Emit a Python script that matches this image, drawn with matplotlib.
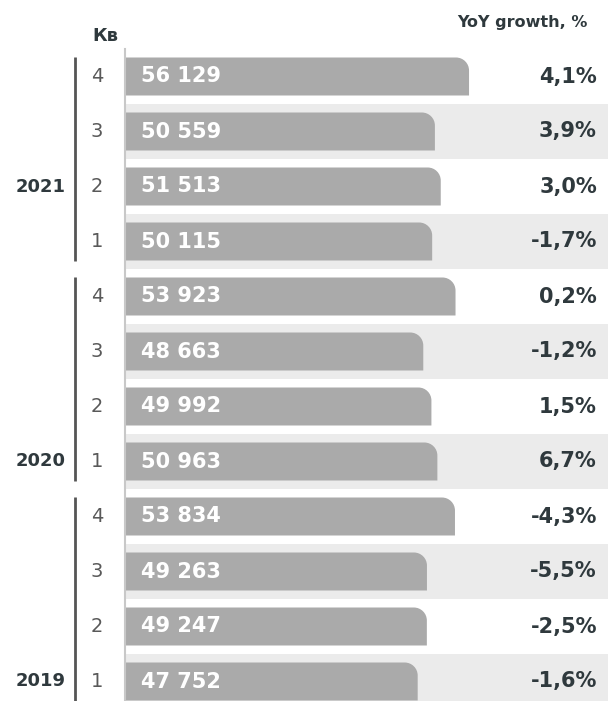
import matplotlib.pyplot as plt
from matplotlib.path import Path
from matplotlib.patches import PathPatch

plt.rcParams['font.family'] = 'DejaVu Sans'

# quarterly values, newest first
years = ['2021', '2020', '2019']
quarters = [4, 3, 2, 1, 4, 3, 2, 1, 4, 3, 2, 1]
values = [56129, 50559, 51513, 50115, 53923, 48663, 49992, 50963,
          53834, 49263, 49247, 47752]
growth = [4.1, 3.9, 3.0, -1.7, 0.2, -1.2, 1.5, 6.7, -4.3, -5.5, -2.5, -1.6]

bar_col = '#aaaaaa'
stripe_col = '#ebebeb'
dark = '#2f393d'

fig = plt.figure(figsize=(6.08, 7.01), dpi=100)
ax = fig.add_axes([125/608, 0, 483/608, 652/701])
xmax = 78800
ax.set_xlim(0, xmax)
ax.set_ylim(-0.5 + 652/55, -0.5)

n = len(values)
bh = 38/55
# corner radius ~13px, in data units
rx = 13 * xmax / 483
ry = 13 / 55
k = 0.5523

for i in range(n):
    if i % 2 == 1:
        ax.axhspan(i - 0.5, i + 0.5, color=stripe_col, lw=0, zorder=0)

def rounded_bar(y, w):
    top = y - bh/2
    bot = y + bh/2
    verts = [(0, bot), (w, bot), (w, top + ry),
             (w, top + ry*(1-k)), (w - rx*(1-k), top), (w - rx, top),
             (0, top), (0, bot)]
    codes = [Path.MOVETO, Path.LINETO, Path.LINETO,
             Path.CURVE4, Path.CURVE4, Path.CURVE4,
             Path.LINETO, Path.CLOSEPOLY]
    return PathPatch(Path(verts, codes), facecolor=bar_col, edgecolor='none', zorder=2)

trans = ax.get_yaxis_transform()
for i, v in enumerate(values):
    ax.add_patch(rounded_bar(i, v))
    ax.text(2600, i, f"{v:,}".replace(',', ' '), color='white', fontsize=15,
            fontweight='bold', va='center', ha='left', zorder=3)
    g = f"{growth[i]:.1f}%".replace('.', ',')
    ax.text(0.977, i, g, transform=trans, color=dark,
            fontsize=15, fontweight='bold', va='center', ha='right')
    ax.text(-0.058, i, str(quarters[i]), transform=trans,
            color='#595959', fontsize=14, va='center', ha='center')

# year brackets and labels
year_rows = [2, 7, 11]
for j, yr in enumerate(years):
    first, last = 4*j, 4*j + 3
    ax.plot([-0.1035, -0.1035], [first - 0.36, last + 0.35], color='#555555',
            lw=2, transform=trans, clip_on=False, solid_capstyle='butt')
    ax.text(-0.122, year_rows[j], yr, transform=trans, color=dark,
            fontsize=13, fontweight='bold', va='center', ha='right')

fig.text(92/608, 1 - 36/701, 'Кв', color=dark, fontsize=13,
         fontweight='bold', va='center', ha='left')
fig.text(588/608, 1 - 22/701, 'YoY growth, %', color=dark, fontsize=11.5,
         fontweight='bold', va='center', ha='right')

for s in ['top', 'right', 'bottom']:
    ax.spines[s].set_visible(False)
ax.spines['left'].set_color('#c8c8c8')
ax.spines['left'].set_linewidth(1.5)
ax.set_xticks([])
ax.set_yticks([])

fig.savefig('out.png', dpi=100)
